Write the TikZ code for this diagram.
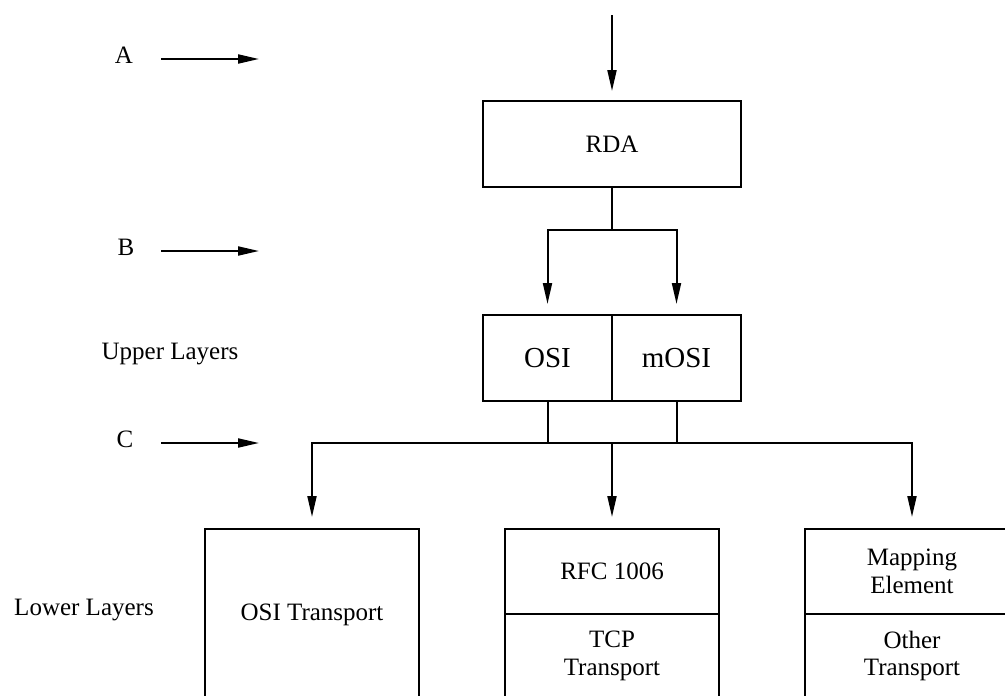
\documentclass[tikz,border=0pt]{standalone}
\usepackage{fontspec}
\setmainfont{Liberation Serif}
\usetikzlibrary{arrows.meta,positioning}

\tikzset{
  box/.style={draw, line width=2pt, inner sep=0pt, outer sep=0pt, align=center,
              font=\fontsize{25}{27.5}\selectfont},
  label/.style={inner sep=0pt, font=\fontsize{25}{27.5}\selectfont},
  arr/.style={line width=2pt, -{Triangle[length=21pt,width=9pt]}},
  wire/.style={line width=2pt}
}

\begin{document}
\begin{tikzpicture}[x=1pt,y=-1pt]
  \useasboundingbox (0,0) rectangle (1005,696);
  \clip (0,0) rectangle (1005,696);

  % side labels and marker arrows
  \node[label] (la) at (124,55) {A};
  \node[label] (lb) at (126,247) {B};
  \node[label] (lc) at (125,439) {C};
  \node[label] (up) at (170,354) {Upper Layers};
  \node[label] (lo) at (84,610) {Lower Layers};
  \coordinate (a0) at (161,59);  \coordinate (a1) at (259,59);
  \coordinate (b0) at (161,251); \coordinate (b1) at (259,251);
  \coordinate (c0) at (161,443); \coordinate (c1) at (259,443);
  \draw[arr] (a0) -- (a1);
  \draw[arr] (b0) -- (b1);
  \draw[arr] (c0) -- (c1);

  % RDA
  \node[box, minimum width=258pt, minimum height=86pt] (rda) at (612,144) {RDA};

  % upper layers
  \node[box, minimum width=129pt, minimum height=86pt,
        font=\fontsize{29}{31}\selectfont] (osi) at (547.5,358) {OSI};
  \node[box, minimum width=129pt, minimum height=86pt,
        font=\fontsize{29}{31}\selectfont] (mosi) at (676.5,358) {mOSI};

  % lower layers
  \node[box, minimum width=214pt, minimum height=172pt] (osit) at (312,615) {OSI Transport};
  \node[box, minimum width=214pt, minimum height=85pt] (rfc) at (612,571.5) {RFC 1006};
  \node[box, minimum width=214pt, minimum height=84pt, below=0pt of rfc] (tcp) {TCP\\Transport};
  \node[box, minimum width=214pt, minimum height=85pt] (map) at (912,571.5) {Mapping\\Element};
  \node[box, minimum width=214pt, minimum height=84pt, below=0pt of map] (oth) {Other\\Transport};

  % connectors
  \coordinate (top) at (612,15);
  \draw[arr, shorten >=10pt] (top) -- (rda.north);

  \coordinate (s1) at (612,230);
  \draw[wire] (rda.south) -- (s1);
  \draw[arr, shorten >=11pt] (s1) -| (osi.north);
  \draw[arr, shorten >=11pt] (s1) -| (mosi.north);

  \coordinate (s2) at (612,443);
  \draw[wire] (osi.south) |- (s2);
  \draw[wire] (mosi.south) |- (s2);
  \draw[arr, shorten >=12pt] (s2) -| (osit.north);
  \draw[arr, shorten >=12pt] (s2) -- (rfc.north);
  \draw[arr, shorten >=12pt] (s2) -| (map.north);
\end{tikzpicture}
\end{document}
